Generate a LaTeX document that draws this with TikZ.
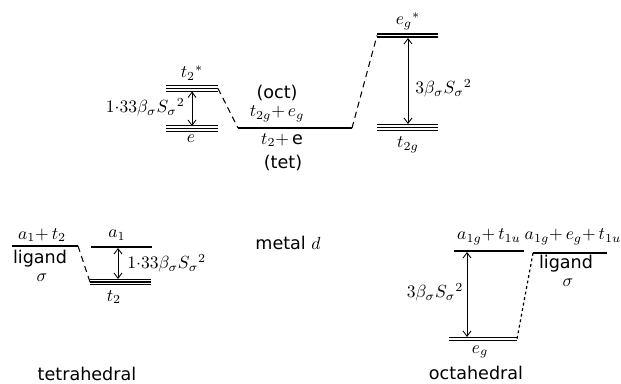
\documentclass[tikz,border=0pt]{standalone}
\usepackage{fontspec}
\setmainfont{DejaVu Sans}
\usetikzlibrary{arrows.meta}

\tikzset{
  lvl/.style={line width=0.6pt},
  link/.style={line width=0.6pt, dash pattern=on 3.5pt off 2.5pt},
  dotlink/.style={line width=0.7pt, dash pattern=on 1.6pt off 1.6pt},
  gap/.style={{Straight Barb[length=3pt,width=4.5pt]}-{Straight Barb[length=3pt,width=4.5pt]}, line width=0.5pt},
  lab/.style={inner sep=0pt, font=\fontsize{10}{12}\selectfont},
}

\begin{document}
\begin{tikzpicture}[x=0.02cm, y=-0.02cm]
  \useasboundingbox (0,0) rectangle (621,384);
  % Top: tetrahedral levels
  \coordinate (tsL) at (166,88.5);  \coordinate (tsR) at (218,88.5);
  \coordinate (teL) at (166,128.5); \coordinate (teR) at (218,128.5);
  \foreach \d in {-2.6,0,2.6} {
    \draw[lvl] ([yshift=\d*0.02cm]tsL) -- ([yshift=\d*0.02cm]tsR);
    \draw[lvl] ([yshift=\d*0.02cm]teL) -- ([yshift=\d*0.02cm]teR);
  }
  \coordinate (tsA) at (192,91.5); \coordinate (teA) at (192,126);
  \draw[gap] (tsA) -- (teA);
  \node[lab] (ts) at (192,73) {$t_2{}^{*}$};
  \node[lab] (te) at (191,139) {$e$};
  \node[lab, anchor=east] (wtop) at (185,107) {$1{\cdot}33\beta_\sigma S_\sigma{}^2$};
  % Top: metal d
  \coordinate (mL) at (238,128); \coordinate (mR) at (352,128);
  \draw[lvl] (mL) -- (mR);
  \draw[link] (tsR) -- (mL);
  \node[lab] (oct) at (277,93) {(oct)};
  \node[lab] (tgeg) at (277,114) {$t_{2g}{+}\,e_g$};
  \node[lab] (tte) at (282,140) {$t_2{+}\,$e};
  \node[lab] (tet) at (283,163) {(tet)};
  % Top: octahedral levels
  \coordinate (egsL) at (377,35.5); \coordinate (egsR) at (438,35.5);
  \coordinate (tgL) at (377,127.5); \coordinate (tgR) at (438,127.5);
  \foreach \d in {-1.5,1.5}
    \draw[lvl] ([yshift=\d*0.02cm]egsL) -- ([yshift=\d*0.02cm]egsR);
  \foreach \d in {-3,0,3}
    \draw[lvl] ([yshift=\d*0.02cm]tgL) -- ([yshift=\d*0.02cm]tgR);
  \draw[link] (mR) -- (egsL);
  \coordinate (egsA) at (408,38); \coordinate (tgA) at (408,124);
  \draw[gap] (egsA) -- (tgA);
  \node[lab] (egs) at (408,21) {$e_g{}^{*}$};
  \node[lab] (tg) at (408,145) {$t_{2g}$};
  \node[lab, anchor=west] (wo) at (415,88) {$3\beta_\sigma S_\sigma{}^2$};
  % Bottom: tetrahedral
  \coordinate (ltL) at (12,246); \coordinate (ltR) at (78,246);
  \draw[lvl] (ltL) -- (ltR);
  \node[lab] (ltup) at (42,235) {$a_1{+}\,t_2$};
  \node[lab] (ltname) at (40,259) {ligand};
  \node[lab] (ltsig) at (42,278) {$\sigma$};
  \coordinate (a1L) at (91,247); \coordinate (a1R) at (152,247);
  \coordinate (t2L) at (90,282); \coordinate (t2R) at (151,282);
  \draw[lvl] (a1L) -- (a1R);
  \foreach \d in {-2.4,0,2.4}
    \draw[line width=0.9pt] ([yshift=\d*0.02cm]t2L) -- ([yshift=\d*0.02cm]t2R);
  \draw[link] (ltR) -- (t2L);
  \coordinate (a1A) at (118,248); \coordinate (t2A) at (118,279);
  \draw[gap] (a1A) -- (t2A);
  \node[lab] (a1) at (117,235) {$a_1$};
  \node[lab] (t2) at (114,297) {$t_2$};
  \node[lab, anchor=west] (wbot) at (127,263) {$1{\cdot}33\beta_\sigma S_\sigma{}^2$};
  \node[lab] (metal) at (288,243) {metal $d$};
  \node[lab] (tetra) at (87,374) {tetrahedral};
  % Bottom: octahedral
  \coordinate (agL) at (454,251); \coordinate (agR) at (524,251);
  \coordinate (loL) at (533,253); \coordinate (loR) at (607,253);
  \coordinate (egL) at (449,339); \coordinate (egR) at (517,339);
  \draw[lvl] (agL) -- (agR);
  \draw[lvl] (loL) -- (loR);
  \foreach \d in {-1.4,1.4}
    \draw[lvl] ([yshift=\d*0.02cm]egL) -- ([yshift=\d*0.02cm]egR);
  \draw[dotlink] (loL) -- (egR);
  \coordinate (agA) at (467,252); \coordinate (egA) at (467,337);
  \draw[gap] (agA) -- (egA);
  \node[lab] (agup) at (489,237) {$a_{1g}{+}\,t_{1u}$};
  \node[lab] (loup) at (573,237) {$a_{1g}{+}\,e_g{+}\,t_{1u}$};
  \node[lab] (loname) at (566,264) {ligand};
  \node[lab] (losig) at (568,283) {$\sigma$};
  \node[lab] (wo2) at (435,292) {$3\beta_\sigma S_\sigma{}^2$};
  \node[lab] (eg) at (480,352) {$e_g$};
  \node[lab] (octa) at (476,373) {octahedral};
\end{tikzpicture}
\end{document}
